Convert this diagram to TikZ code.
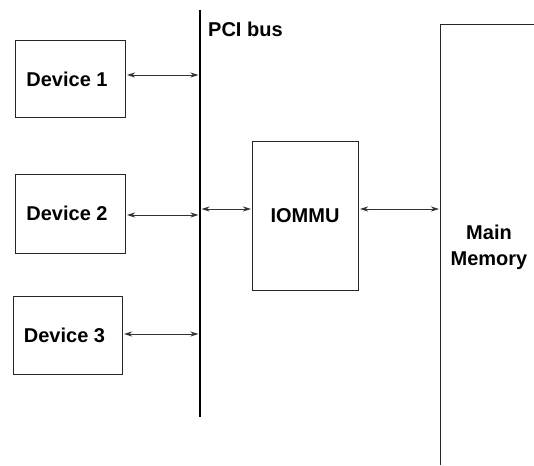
\documentclass[tikz,border=0pt]{standalone}
\usepackage{fontspec}
\setmainfont{Liberation Sans}
\usetikzlibrary{arrows.meta,calc}
\begin{document}
\begin{tikzpicture}[x=1pt,y=-1pt,
  box/.style={draw=black!85,line width=1pt,inner sep=0pt,font=\fontsize{20}{24}\selectfont\bfseries},
  lbl/.style={inner sep=0pt,font=\fontsize{20}{24}\selectfont\bfseries},
  link/.style={line width=0.9pt,black!80,{Stealth[length=8pt,width=5pt,inset=2.5pt]}-{Stealth[length=8pt,width=5pt,inset=2.5pt]},shorten <=1.5pt}]
\useasboundingbox (0,0) rectangle (534,465);
\node[box,minimum width=110pt,minimum height=77pt] (d1) at (70,79.5) {\hspace*{-6pt}Device 1};
\node[box,minimum width=110pt,minimum height=79pt] (d2) at (70,213.5) {\hspace*{-6pt}Device 2};
\node[box,minimum width=109pt,minimum height=78pt] (d3) at (67.5,335) {\hspace*{-6pt}Device 3};
\node[box,minimum width=106pt,minimum height=149pt] (io) at (305,215.5) {IOMMU};
\coordinate (bt) at (200,10);
\coordinate (bb) at (200,417);
\draw[line width=2.5pt] (bt) -- (bb);
\node[lbl,anchor=west] (pci) at (208,29) {PCI bus};
\coordinate (mtl) at (440,25);
\coordinate (mtr) at (534,25);
\coordinate (mbl) at (440,465);
\draw[line width=1pt,black!85] (mtr) -- (mtl) -- (mbl);
\node[lbl,align=center] (mem) at (489,247) {Main\\[2pt]Memory};
\coordinate (b1) at (198.5,75);
\coordinate (b2) at (198.5,215);
\coordinate (b3) at (198.5,334);
\coordinate (b4) at (201.5,209);
\coordinate (m) at (439,209);
\draw[link] (d1.east |- b1) -- (b1);
\draw[link] (d2.east |- b2) -- (b2);
\draw[link] (d3.east |- b3) -- (b3);
\draw[link,shorten <=0pt] (b4) -- ($(io.west |- b4)+(-0.5,0)$);
\draw[link] (io.east |- m) -- (m);
\end{tikzpicture}
\end{document}
